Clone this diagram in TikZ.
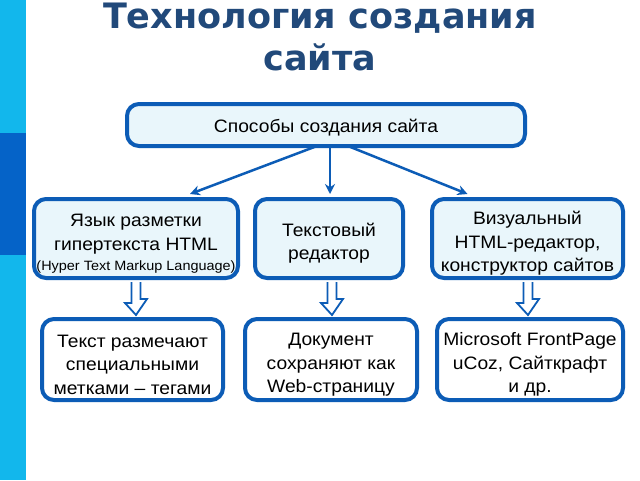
\documentclass[tikz,border=0pt]{standalone}
\usepackage{fontspec}
\setmainfont{Liberation Sans}[FakeStretch=1.07]
\newfontfamily\titlefont{DejaVu Sans}
\usetikzlibrary{arrows.meta,calc}
\definecolor{boxblue}{RGB}{12,92,182}
\definecolor{boxfill}{RGB}{233,246,251}
\definecolor{titleblue}{RGB}{33,73,122}
\definecolor{barlight}{RGB}{18,183,236}
\definecolor{bardark}{RGB}{5,99,200}
\newcommand\tstr{\rule{0pt}{23pt}}
\tikzset{
  box/.style={draw=boxblue, line width=4pt, rounded corners=12pt, fill=boxfill,
    align=center, inner sep=0pt, font=\fontsize{18}{23.5}\selectfont},
  whitebox/.style={box, fill=white},
  link/.style={draw=boxblue, line width=2.5pt, -{Stealth[length=10pt,width=10pt]}},
  hollow/.style={draw=boxblue, line width=1.8pt, fill=white, line join=miter}
}
\begin{document}
\begin{tikzpicture}[x=1pt,y=-1pt]
\useasboundingbox (0,0) rectangle (640,480);
\fill[white] (0,0) rectangle (640,480);
\fill[barlight] (0,0) rectangle (26,480);
\fill[bardark] (0,133) rectangle (26,255);

\node[font=\titlefont\bfseries\fontsize{35}{42}\selectfont, text=titleblue, align=center] (title) at (320,37) {Технология создания\\сайта};

\node[box, minimum width=398pt, minimum height=42pt] (top) at (326,125) {\rule{0pt}{19pt}Способы создания сайта};

\node[box, minimum width=204pt, minimum height=79pt] (a) at (136,238.5)
  {\tstr Язык разметки\\гипертекста HTML\\[-3pt]{\fontsize{13.5}{15}\selectfont(Hyper Text Markup Language)}};
\node[box, minimum width=148pt, minimum height=79pt] (b) at (329,238.5)
  {\tstr Текстовый\\редактор};
\node[box, minimum width=191pt, minimum height=79pt] (c) at (527.5,238.5)
  {\tstr Визуальный\\HTML-редактор,\\конструктор сайтов};

\node[whitebox, minimum width=181pt, minimum height=81pt] (d) at (132.5,359.5)
  {\tstr Текст размечают\\специальными\\метками -- тегами};
\node[whitebox, minimum width=172pt, minimum height=81pt] (e) at (331,359.5)
  {\tstr Документ\\сохраняют как\\Web-страницу};
\node[whitebox, minimum width=186pt, minimum height=81pt] (f) at (530,359.5)
  {\tstr Microsoft FrontPage\\uCoz, Сайткрафт\\и др.};

\draw[link] ([xshift=-9pt,yshift=2pt]top.south) -- ([xshift=54pt,yshift=3pt]a.north);
\draw[link] ([xshift=4pt,yshift=2pt]top.south) -- ([xshift=1pt,yshift=3pt]b.north);
\draw[link] ([xshift=22pt,yshift=2pt]top.south) -- ([xshift=-60pt,yshift=3pt]c.north);

\foreach \u/\l/\dx in {a/d/0, b/e/3, c/f/0.5}{
  \draw[hollow] ($(\u.south)+(\dx-4.5,2)$) -- ++(0,21) -- ++(-6.5,0)
    -- ($(\u.south |- \l.north)+(\dx,-2)$) -- ++(11,-16) -- ++(-6.5,0)
    -- ($(\u.south)+(\dx+4.5,2)$);
}
\end{tikzpicture}
\end{document}
